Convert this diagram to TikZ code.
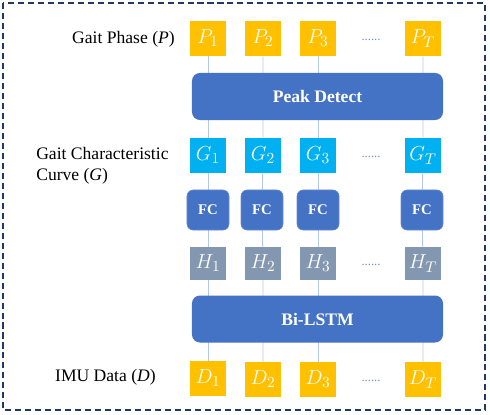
\documentclass[tikz,border=0pt]{standalone}
\usepackage{fontspec}
\setmainfont{Liberation Serif}[
  BoldFont={Liberation Serif Bold},
  ItalicFont={Liberation Serif Italic}]
\usetikzlibrary{backgrounds}

\definecolor{phaseorange}{HTML}{FFC000}
\definecolor{curvecyan}{HTML}{00B0F0}
\definecolor{layerblue}{HTML}{4472C4}
\definecolor{hiddengray}{HTML}{8497B0}
\definecolor{linkblue}{HTML}{B4C7E7}
\definecolor{dotblue}{HTML}{6F8FD0}
\definecolor{framenavy}{HTML}{203864}

\tikzset{
  seqbox/.style={minimum width=0.9cm, minimum height=0.875cm, inner sep=0pt,
    text=white, font=\fontsize{15}{17}\selectfont},
  phasebox/.style={seqbox, fill=phaseorange},
  curvebox/.style={seqbox, fill=curvecyan},
  hiddenbox/.style={seqbox, fill=hiddengray, minimum height=0.82cm},
  fcbox/.style={fill=layerblue, draw=layerblue!80!white, rounded corners=0.15cm,
    minimum width=1.05cm, minimum height=1.0cm, inner sep=0pt,
    text=white, font=\bfseries\fontsize{10.5}{12}\selectfont},
  layerbar/.style={fill=layerblue, rounded corners=0.2cm,
    minimum width=6.275cm, minimum height=1.175cm, inner sep=0pt,
    text=white, font=\bfseries\fontsize{12.5}{14}\selectfont},
  rowlabel/.style={font=\fontsize{12.5}{15}\selectfont, inner sep=0pt},
  seqdots/.style={text=dotblue, font=\fontsize{9}{10}\selectfont, inner sep=0pt},
  link/.style={draw=linkblue, line width=0.6pt},
  frame/.style={draw=framenavy, line width=1.4pt, dash pattern=on 4.3pt off 2.8pt}
}

\begin{document}
\begin{tikzpicture}[x=0.025cm, y=-0.025cm]
  \useasboundingbox (0,0) rectangle (490,414);
  \draw[frame] (3,3) rectangle (485,410);

  % gait phase
  \node[phasebox] (P1) at (208,38.5) {$P_1$};
  \node[phasebox] (P2) at (263,38.5) {$P_2$};
  \node[phasebox] (P3) at (318,38.5) {$P_3$};
  \node[phasebox] (PT) at (423,38.5) {$P_T$};
  \node[seqdots] (Pdots) at (371,40) {......};
  \node[rowlabel, anchor=east] (Plabel) at (175,39) {Gait Phase (\textit{P})};

  \node[layerbar] (peak) at (317.5,96.5) {Peak Detect};

  % gait characteristic curve
  \node[curvebox] (G1) at (208,155.5) {$G_1$};
  \node[curvebox] (G2) at (263,155.5) {$G_2$};
  \node[curvebox] (G3) at (318,155.5) {$G_3$};
  \node[curvebox] (GT) at (423,155.5) {$G_T$};
  \node[seqdots] (Gdots) at (371,157) {......};
  \node[rowlabel, anchor=west, align=left] (Glabel) at (36,166)
    {Gait Characteristic\\Curve (\textit{G})};

  \node[fcbox] (FC1) at (208,210) {FC};
  \node[fcbox] (FC2) at (262,210) {FC};
  \node[fcbox] (FC3) at (318,210) {FC};
  \node[fcbox] (FCT) at (422,210) {FC};

  \node[hiddenbox] (H1) at (208,263.5) {$H_1$};
  \node[hiddenbox] (H2) at (263,263.5) {$H_2$};
  \node[hiddenbox] (H3) at (318,263.5) {$H_3$};
  \node[hiddenbox] (HT) at (423,263.5) {$H_T$};
  \node[seqdots] (Hdots) at (371,265) {......};

  \node[layerbar] (lstm) at (317.5,319) {Bi-LSTM};

  % imu data
  \node[phasebox] (D1) at (208,378.5) {$D_1$};
  \node[phasebox] (D2) at (263,379.5) {$D_2$};
  \node[phasebox] (D3) at (318,379.5) {$D_3$};
  \node[phasebox] (DT) at (423,379.5) {$D_T$};
  \node[seqdots] (Ddots) at (371,381) {......};
  \node[rowlabel, anchor=east] (Dlabel) at (156,377) {IMU Data (\textit{D})};

  \begin{pgfonlayer}{background}
    \draw[link] (P1) -- (G1) -- (FC1) -- (H1) -- (D1);
    \draw[link] (P2) -- (G2) -- (FC2) -- (H2) -- (D2);
    \draw[link] (P3) -- (G3) -- (FC3) -- (H3) -- (D3);
    \draw[link] (PT) -- (GT) -- (FCT) -- (HT) -- (DT);
  \end{pgfonlayer}
\end{tikzpicture}
\end{document}
